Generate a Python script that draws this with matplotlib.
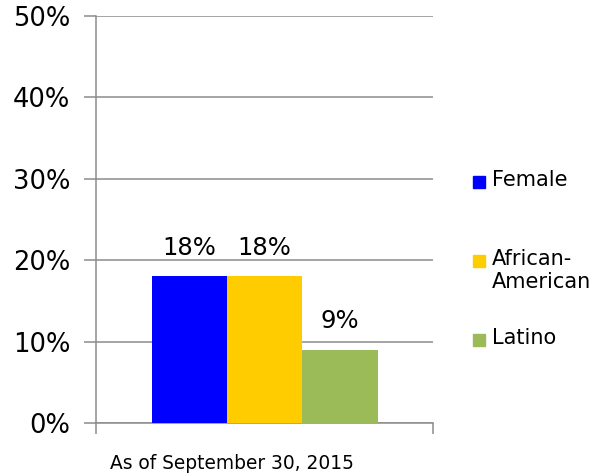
import numpy as np
import matplotlib.pyplot as plt
from matplotlib.patches import Rectangle

## Chart data
categories = ['As of September 30, 2015']
series     = ['Female', 'African-\nAmerican', 'Latino']
values     = [18, 18, 9]
colors     = ['#0000FF', '#FFCC00', '#9BBB59']
yticks     = [0, 10, 20, 30, 40, 50]

W, H = 592, 476
fig = plt.figure(figsize=(W / 100, H / 100), dpi=100)
ax = fig.add_axes([96.5 / W, 1 - 423 / H, (433 - 96.5) / W, (423 - 16) / H])

## Bars, one per series, side by side around the single category
xpos = np.arange(len(series)) - (len(series) - 1) / 2
for x, v, c in zip(xpos, values, colors):
    ax.bar(x, v, width=1.0, color=c, zorder=3)
    ax.text(x, v + 2.0, '%d%%' % v, ha='center', va='bottom', fontsize=17.5, color='black')

ax.set_xlim(-2.23, 2.23)
ax.set_ylim(0, 50)
ax.set_yticks(yticks)
ax.set_yticklabels(['%d%%' % t for t in yticks], fontsize=18.5)
ax.yaxis.grid(True, color='#8C8C8C', linewidth=1.1, zorder=0)
ax.tick_params(axis='y', length=9, width=1.1, color='#8C8C8C', pad=10)

## Category label slightly left of centre, tick marks at the category edges
ax.set_xticks([-0.43])
ax.set_xticklabels(categories, fontsize=13.4)
ax.tick_params(axis='x', which='major', length=0, pad=22)
ax.set_xticks([-2.23, 2.23], minor=True)
ax.tick_params(axis='x', which='minor', length=8, width=1.1, color='#8C8C8C')

for side in ['top', 'right']:
    ax.spines[side].set_visible(False)
for side in ['left', 'bottom']:
    ax.spines[side].set_color('#8C8C8C')
    ax.spines[side].set_linewidth(1.1)

## Legend drawn by hand so the entries sit where the reference has them
leg_y = [182, 261, 340]
for lab, c, y in zip(series, colors, leg_y):
    fig.add_artist(Rectangle((473 / W, 1 - (y + 6) / H), 12 / W, 12 / H,
                             transform=fig.transFigure, color=c))
    fig.text(492 / W, 1 - (y - 12) / H, lab, ha='left', va='top',
             fontsize=15, linespacing=1.2)

fig.savefig('out.png', dpi=100)
